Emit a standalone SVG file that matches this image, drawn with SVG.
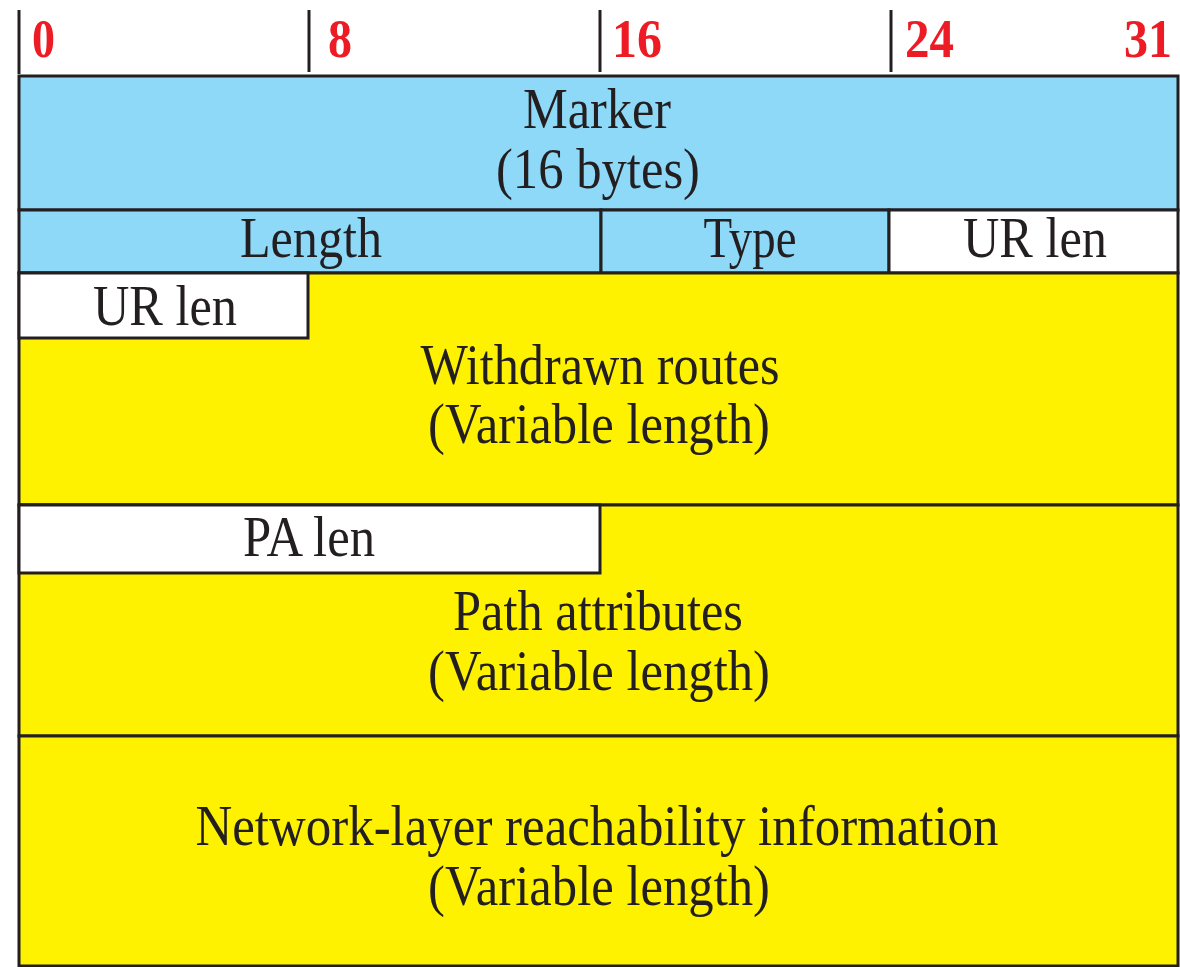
<svg xmlns="http://www.w3.org/2000/svg" width="1180" height="967" viewBox="0 0 1180 967">
<style>
.blue{fill:#8ED8F8;stroke:#231F20;stroke-width:3}
.yellow{fill:#FFF200;stroke:#231F20;stroke-width:3}
.white{fill:#FFFFFF;stroke:#231F20;stroke-width:3}
.tick{stroke:#231F20;stroke-width:3}
.lbl{font-family:"Liberation Serif","Times New Roman",serif;font-size:56px;fill:#231F20;text-anchor:middle}
.num{font-family:"Liberation Serif","Times New Roman",serif;font-size:54px;font-weight:bold;fill:#ED1C24}
</style>
<rect width="1180" height="967" fill="#FFFFFF"/>
<g id="ruler">
<line class="tick" x1="19" y1="10" x2="19" y2="74"/>
<line class="tick" x1="309" y1="10" x2="309" y2="72"/>
<line class="tick" x1="600" y1="10" x2="600" y2="72"/>
<line class="tick" x1="891" y1="10" x2="891" y2="72"/>
<text class="num" x="32" y="57" textLength="23" lengthAdjust="spacingAndGlyphs">0</text>
<text class="num" x="328" y="57" textLength="24" lengthAdjust="spacingAndGlyphs">8</text>
<text class="num" x="612" y="57" textLength="50" lengthAdjust="spacingAndGlyphs">16</text>
<text class="num" x="905" y="57" textLength="49" lengthAdjust="spacingAndGlyphs">24</text>
<text class="num" x="1124" y="57" textLength="48" lengthAdjust="spacingAndGlyphs">31</text>
</g>
<g id="marker">
<rect class="blue" x="19" y="76" width="1159" height="134"/>
<text class="lbl" x="597" y="128" textLength="148" lengthAdjust="spacingAndGlyphs">Marker</text>
<text class="lbl" x="598" y="188" textLength="204" lengthAdjust="spacingAndGlyphs">(16 bytes)</text>
</g>
<g id="length">
<rect class="blue" x="19" y="210" width="582" height="63"/>
<text class="lbl" x="311" y="257" textLength="142" lengthAdjust="spacingAndGlyphs">Length</text>
</g>
<g id="type">
<rect class="blue" x="601" y="210" width="288" height="63"/>
<text class="lbl" x="750" y="257" textLength="93" lengthAdjust="spacingAndGlyphs">Type</text>
</g>
<g id="urlen1">
<rect class="white" x="889" y="210" width="289" height="63"/>
<text class="lbl" x="1035" y="257" textLength="144" lengthAdjust="spacingAndGlyphs">UR len</text>
</g>
<g id="withdrawn">
<rect class="yellow" x="19" y="273" width="1159" height="232"/>
<text class="lbl" x="600" y="384" textLength="359" lengthAdjust="spacingAndGlyphs">Withdrawn routes</text>
<text class="lbl" x="599" y="443" textLength="342" lengthAdjust="spacingAndGlyphs">(Variable length)</text>
</g>
<g id="urlen2">
<rect class="white" x="19" y="273" width="289" height="65"/>
<text class="lbl" x="165" y="325" textLength="144" lengthAdjust="spacingAndGlyphs">UR len</text>
</g>
<g id="pathattr">
<rect class="yellow" x="19" y="505" width="1159" height="231"/>
<text class="lbl" x="598" y="630" textLength="290" lengthAdjust="spacingAndGlyphs">Path attributes</text>
<text class="lbl" x="599" y="690" textLength="342" lengthAdjust="spacingAndGlyphs">(Variable length)</text>
</g>
<g id="palen">
<rect class="white" x="19" y="505" width="581" height="68"/>
<text class="lbl" x="309" y="556" textLength="132" lengthAdjust="spacingAndGlyphs">PA len</text>
</g>
<g id="nlri">
<rect class="yellow" x="19" y="736" width="1159" height="230"/>
<text class="lbl" x="597" y="845" textLength="803" lengthAdjust="spacingAndGlyphs">Network-layer reachability information</text>
<text class="lbl" x="599" y="905" textLength="342" lengthAdjust="spacingAndGlyphs">(Variable length)</text>
</g>
</svg>
